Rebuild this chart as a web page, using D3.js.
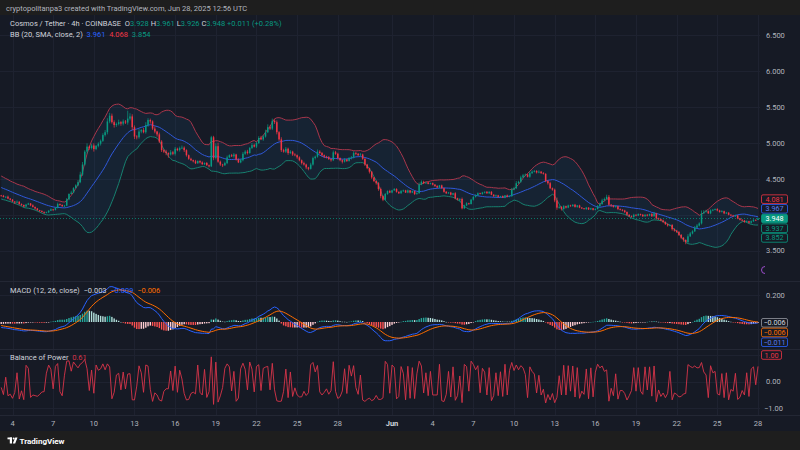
<!DOCTYPE html>
<html><head><meta charset="utf-8">
<script src="https://cdn.jsdelivr.net/npm/d3@7"></script>
<style>
html,body{margin:0;padding:0;background:#1e1e1e;}
svg{display:block;font-family:Roboto,"Noto Sans",sans-serif;}
</style></head><body>
<svg id="c" width="800" height="450"></svg>
<script>
// ---------- DATA (prices in thousandths of USDT) ----------
// closes before the visible window, estimated from where the bands/MACD start
const priorCloses = [4380,4400,4420,4410,4440,4460,4450,4470,4490,4480,4460,4520,4500,4480,4490,4460,4440,4430,4400,4390,4370,4380,4350,4340,4320,4330,4300,4290,4280,4270];
// visible 4h closes, May 3 04:00 -> Jun 28 00:00
const closes = [
4265,4248,4252,4226,4210,4185,4170,4182,4150,4138,4115,4142,
4158,4132,4110,4088,4066,4052,4040,4028,4035,4058,4075,4068,
4095,4150,4138,4120,4128,4215,4290,4310,4372,4410,4455,4560,
4700,4880,4950,4930,4965,4915,4960,4990,5030,5110,5150,5300,
5380,5290,5250,5265,5290,5270,5300,5285,5340,5370,5220,5090,
5080,5160,5180,5150,5250,5320,5300,5200,5160,5120,5020,4900,
4880,4860,4840,4870,4850,4920,4900,4930,4935,4900,4830,4780,
4760,4745,4718,4748,4730,4705,4722,4690,4675,5080,4790,4955,
4740,4700,4690,4720,4800,4830,4815,4840,4770,4730,4760,4850,
4880,4860,4930,4970,4950,5000,5070,5050,5090,5150,5220,5200,
5310,5290,5150,5050,4900,4880,4920,4860,4880,4840,4830,4800,
4760,4720,4700,4660,4640,4700,4790,4810,4880,4860,4830,4810,
4800,4775,4760,4870,4850,4790,4760,4740,4770,4750,4790,4800,
4860,4850,4830,4840,4780,4700,4650,4600,4520,4470,4440,4360,
4260,4210,4290,4330,4310,4340,4360,4320,4300,4330,4340,4310,
4340,4310,4330,4290,4300,4420,4460,4440,4450,4430,4440,4420,
4400,4380,4410,4370,4320,4300,4310,4280,4300,4230,4210,4220,
4090,4130,4160,4150,4210,4250,4270,4300,4290,4310,4320,4300,
4320,4280,4260,4270,4250,4260,4240,4270,4250,4260,4350,4370,
4440,4460,4520,4550,4560,4530,4580,4600,4610,4590,4600,4580,
4570,4470,4440,4370,4350,4200,4100,4110,4080,4120,4100,4130,
4120,4140,4110,4130,4100,4090,4080,4100,4075,4090,4070,4080,
4120,4150,4200,4220,4250,4140,4130,4110,4120,4080,4070,4060,
4040,4000,3980,3970,4000,3990,4010,4000,3980,4000,3990,4010,
3980,4020,3950,3940,3920,3900,3870,3850,3860,3800,3780,3760,
3720,3680,3650,3620,3700,3740,3770,3820,3850,3880,4020,4040,
4050,4020,4060,4070,4080,4060,4040,4050,4020,4030,4000,3990,
3980,3990,3950,3930,3920,3900,3910,3890,3910,3930,3928,3948];
// wick lengths above max(open,close) and below min(open,close)
const upperWicks = [
8,12,5,15,6,10,4,18,7,9,3,12, 10,6,14,5,8,3,11,6,9,4,15,7,
12,20,8,6,10,18,9,25,12,15,30,40, 35,20,45,15,25,30,12,20,18,25,30,45,
40,30,25,20,35,15,28,20,110,45,30,25, 20,35,15,30,40,25,20,15,30,10,25,20,
15,25,10,30,20,25,15,20,30,18,12,10, 15,8,20,10,12,15,8,14,10,20,20,40,
50,15,10,20,25,12,18,20,10,15,20,25, 20,25,15,30,20,18,25,30,20,35,40,25,
30,20,25,15,30,20,25,15,20,12,18,10, 15,10,20,12,8,25,20,15,30,20,15,10,
12,18,10,25,20,15,8,12,20,10,15,18, 25,15,10,20,12,8,10,6,12,10,8,15,
20,12,15,10,18,8,12,10,6,15,10,8, 12,6,10,8,14,30,20,15,10,12,8,10,
8,12,6,10,5,12,8,10,6,15,8,12, 20,10,15,8,12,10,15,12,8,10,6,12,
8,10,6,12,8,5,10,6,12,8,25,20, 30,15,25,20,15,10,25,20,15,12,20,10,
15,10,12,20,10,15,40,20,10,15,8,12, 10,8,12,6,10,8,5,10,6,8,5,10,
15,20,25,20,30,25,10,8,12,6,10,8, 10,6,8,12,15,8,10,6,12,8,10,6,
15,20,8,10,6,12,8,10,6,8,12,10, 15,12,10,8,30,20,15,25,20,15,40,25,
20,12,15,10,8,12,10,15,8,10,6,12, 10,12,8,6,10,8,12,6,10,8,5,13];
const lowerWicks = [
10,6,15,8,12,5,18,6,10,14,8,5, 6,12,8,15,10,12,8,14,6,10,5,12,
8,6,12,10,15,8,12,6,10,8,12,15, 20,15,30,25,20,35,15,20,25,15,20,30,
25,20,35,25,20,30,25,20,30,25,40,35, 30,20,25,15,20,25,30,20,25,30,20,25,
20,30,45,15,20,25,15,20,15,25,20,15, 10,15,12,8,15,10,12,8,15,10,30,20,
15,20,25,10,15,12,10,20,15,10,12,15, 15,20,10,15,12,20,15,10,20,15,12,20,
20,25,30,20,25,15,20,25,15,20,15,20, 15,20,15,25,20,10,15,20,15,12,15,20,
15,10,20,12,15,20,15,25,12,15,10,20, 15,20,12,10,15,20,15,25,20,15,20,25,
30,20,10,12,8,10,6,12,10,8,12,6, 10,12,8,15,10,6,8,12,10,6,8,10,
12,8,10,6,12,10,8,12,10,15,10,25, 15,12,8,10,6,12,10,8,6,10,12,8,
10,6,12,8,10,12,6,10,8,6,10,8, 12,10,15,8,12,10,15,12,10,15,12,10,
10,15,20,12,15,25,30,15,20,10,12,8, 8,6,10,12,8,10,6,12,8,6,10,8,
6,8,10,12,8,15,20,10,12,15,10,12, 15,12,10,8,12,10,8,12,10,8,12,10,
10,8,15,12,10,15,12,15,10,20,15,12, 15,20,25,30,15,10,12,10,8,12,15,10,
10,8,12,10,8,12,10,8,12,10,8,12, 8,10,12,8,10,12,8,10,12,8,10,2];

const dateTicks = ["2025-05-04","2025-05-07","2025-05-10","2025-05-13","2025-05-16","2025-05-19","2025-05-22","2025-05-25","2025-05-28","2025-06-01","2025-06-04","2025-06-07","2025-06-10","2025-06-13","2025-06-16","2025-06-19","2025-06-22","2025-06-25","2025-06-28"];
const dateTickLabels = ["4","7","10","13","16","19","22","25","28","Jun","4","7","10","13","16","19","22","25","28"];
const priceTicks = [3.5,4.0,4.5,5.0,5.5,6.0,6.5];
const priceTickLabels = ["3.500","","4.500","5.000","5.500","6.000","6.500"];
const macdTicks = [0.2];
const macdTickLabels = ["0.200"];
const bopTicks = [0,-1];
const bopTickLabels = ["0.00","\u22121.00"];
const priceLabelTexts = ["4.081","3.967","3.948","3.937","3.852"];
const macdLabelTexts = ["\u22120.006","\u22120.006","\u22120.011"];
const bopLabelTexts = ["1.00"];

// ---------- SETUP ----------
const svg = d3.select('#c');
const COL = {outer:'#1e1e1e', bg:'#161a25', grid:'#1e2230', text:'#b2b5be', up:'#089981', down:'#f23645',
  bbUp:'#a8364b', bbMid:'#2f58d9', bbLow:'#17806f', macd:'#2962ff', signal:'#ff6d00', bop:'#d8344a', sep:'#232734'};
const plotR = 760;
svg.append('rect').attr('width',800).attr('height',450).attr('fill',COL.outer);
svg.append('rect').attr('x',0).attr('y',15).attr('width',800).attr('height',416).attr('fill',COL.bg);

const t0 = Date.UTC(2025,4,3,4);
const x = d3.scaleUtc().domain([new Date(Date.UTC(2025,4,4)), new Date(Date.UTC(2025,5,28))]).range([12.5,758]);
const yP = d3.scaleLinear().domain([3.5,6.5]).range([250.7,35.3]);
const yM = d3.scaleLinear().domain([0,0.2]).range([322,295.3]);
const yB = d3.scaleLinear().domain([-1,1]).range([408.3,355]);

// ---------- DERIVED SERIES ----------
const all = priorCloses.concat(closes).map(v=>v/1000);
const N0 = priorCloses.length;
const candles = closes.map((c,i)=>{
  const o = all[N0+i-1], cl = all[N0+i];
  const h = Math.max(o,cl)+upperWicks[i]/1000, l = Math.min(o,cl)-lowerWicks[i]/1000;
  return {t:new Date(t0+i*4*3600e3), o, c:cl, h, l, bop:(h>l)?(cl-o)/(h-l):0};
});
const bb = candles.map((d,i)=>{
  const k=N0+i, win=all.slice(k-19,k+1);
  const m=d3.mean(win), sd=Math.sqrt(d3.mean(win,v=>(v-m)*(v-m)));
  return {t:d.t, mid:m, up:m+2*sd, lo:m-2*sd};
});
function ema(arr,n){const a=2/(n+1);const out=[];arr.forEach((v,i)=>out.push(i?a*v+(1-a)*out[i-1]:v));return out;}
const e12=ema(all,12), e26=ema(all,26);
const macdAll=all.map((v,i)=>e12[i]-e26[i]);
const sigAll=ema(macdAll,9);
const macd = candles.map((d,i)=>{const k=N0+i;return {t:d.t, m:macdAll[k], s:sigAll[k], h:macdAll[k]-sigAll[k], hp:macdAll[k-1]-sigAll[k-1]};});

// ---------- CLIPS ----------
const defs=svg.append('defs');
[['cm',15,265],['cd',282,67],['cb',350,64]].forEach(([id,y,h])=>defs.append('clipPath').attr('id',id).append('rect').attr('x',0).attr('y',y).attr('width',plotR).attr('height',h));

// ---------- GRID ----------
const grid=svg.append('g').attr('stroke',COL.grid).attr('stroke-width',1);
dateTicks.forEach(s=>{const xx=Math.round(x(new Date(s+'T00:00:00Z')))+0.5;grid.append('line').attr('x1',xx).attr('x2',xx).attr('y1',15).attr('y2',415);});
priceTicks.forEach(p=>{const yy=Math.round(yP(p))+0.5;grid.append('line').attr('x1',0).attr('x2',plotR).attr('y1',yy).attr('y2',yy);});
macdTicks.forEach(p=>{const yy=Math.round(yM(p))+0.5;grid.append('line').attr('x1',0).attr('x2',plotR).attr('y1',yy).attr('y2',yy);});
[1,0,-1].forEach(p=>{const yy=Math.round(yB(p))+0.5;grid.append('line').attr('x1',0).attr('x2',plotR).attr('y1',yy).attr('y2',yy);});
// pane separators
[281.5,349.5,415.5].forEach(yy=>svg.append('line').attr('x1',0).attr('x2',800).attr('y1',yy).attr('y2',yy).attr('stroke',COL.sep).attr('stroke-width',1));

// ---------- MAIN PANE ----------
const gm=svg.append('g').attr('clip-path','url(#cm)');
gm.append('path').datum(bb).attr('fill','rgba(33,150,243,0.07)')
  .attr('d',d3.area().x(d=>x(d.t)).y0(d=>yP(d.lo)).y1(d=>yP(d.up)));
[['up',COL.bbUp],['mid',COL.bbMid],['lo',COL.bbLow]].forEach(([k,c])=>
  gm.append('path').datum(bb).attr('fill','none').attr('stroke',c).attr('stroke-width',1)
   .attr('d',d3.line().x(d=>x(d.t)).y(d=>yP(d[k]))));
// price line
const lastC=candles[candles.length-1].c;
gm.append('line').attr('x1',0).attr('x2',plotR).attr('y1',yP(lastC)).attr('y2',yP(lastC))
  .attr('stroke',COL.up).attr('stroke-width',1).attr('stroke-dasharray','1,2').attr('opacity',0.75);
const cg=gm.append('g');
candles.forEach(d=>{
  const col=d.c>=d.o?COL.up:COL.down, xx=x(d.t);
  cg.append('line').attr('x1',xx).attr('x2',xx).attr('y1',yP(d.h)).attr('y2',yP(d.l)).attr('stroke',col).attr('stroke-width',0.7);
  const y1=yP(Math.max(d.o,d.c)), y2=yP(Math.min(d.o,d.c));
  cg.append('rect').attr('x',xx-0.75).attr('width',1.5).attr('y',y1).attr('height',Math.max(0.8,y2-y1)).attr('fill',col);
});

// ---------- MACD PANE ----------
const gd=svg.append('g').attr('clip-path','url(#cd)');
macd.forEach(d=>{
  const col=d.h>=0?(d.h>d.hp?'#26a69a':'#b2dfdb'):(d.h<d.hp?'#ff5252':'#ffcdd2');
  const ya=yM(Math.max(0,d.h)), yb=yM(Math.min(0,d.h));
  gd.append('rect').attr('x',x(d.t)-0.7).attr('width',1.4).attr('y',ya).attr('height',Math.max(0.5,yb-ya)).attr('fill',col);
});
[['m',COL.macd],['s',COL.signal]].forEach(([k,c])=>
  gd.append('path').datum(macd).attr('fill','none').attr('stroke',c).attr('stroke-width',1)
   .attr('d',d3.line().x(d=>x(d.t)).y(d=>yM(d[k]))));

// ---------- BOP PANE ----------
const gb=svg.append('g').attr('clip-path','url(#cb)');
gb.append('path').datum(candles).attr('fill','none').attr('stroke',COL.bop).attr('stroke-width',0.9)
  .attr('d',d3.line().x(d=>x(d.t)).y(d=>yB(d.bop)));

// ---------- AXES TEXT ----------
const fs=7.5;
const axT=svg.append('g').attr('fill',COL.text).attr('font-size',fs);
priceTicks.forEach((p,i)=>{if(priceTickLabels[i])axT.append('text').attr('x',766).attr('y',yP(p)).attr('dy','0.35em').text(priceTickLabels[i]);});
macdTicks.forEach((p,i)=>axT.append('text').attr('x',766).attr('y',yM(p)).attr('dy','0.35em').text(macdTickLabels[i]));
bopTicks.forEach((p,i)=>axT.append('text').attr('x',p<0?764:766).attr('y',yB(p)).attr('dy','0.35em').text(bopTickLabels[i]));
dateTicks.forEach((s,i)=>{
  const isM=dateTickLabels[i]==='Jun';
  axT.append('text').attr('x',x(new Date(s+'T00:00:00Z'))).attr('y',423.5).attr('dy','0.35em').attr('text-anchor','middle')
   .attr('fill',isM?'#d1d4dc':COL.text).attr('font-weight',isM?'bold':null).text(dateTickLabels[i]);
});

// small events icon at bottom of the price scale
svg.append('path').attr('d','M765,266.5 A3.5,3.5 0 1 0 765,273.5').attr('fill','none').attr('stroke','#9c4dcc').attr('stroke-width',1);

// ---------- VALUE LABELS (right scale) ----------
function vLabel(yc,txt,stroke,fill,tcol,w){
  const g=svg.append('g');
  g.append('rect').attr('x',761.5).attr('y',yc-4.3).attr('width',w).attr('height',8.6).attr('rx',1.5)
   .attr('fill',fill).attr('stroke',stroke).attr('stroke-width',0.8);
  g.append('text').attr('x',761.5+w/2).attr('y',yc).attr('dy','0.35em').attr('text-anchor','middle')
   .attr('font-size',7.2).attr('fill',tcol).text(txt);
}
const pStyles=[[COL.down,COL.bg,COL.down],[COL.macd,COL.bg,'#5b7cf0'],[COL.up,COL.up,'#ffffff'],[COL.up,COL.bg,COL.up],[COL.up,COL.bg,COL.up]];
const yLast=yP(lastC);
priceLabelTexts.forEach((t,i)=>vLabel(yLast+(i-2)*9.7,t,...pStyles[i],26));
const mStyles=[['#9598a1',COL.bg,'#d1d4dc'],[COL.signal,COL.bg,COL.signal],[COL.macd,COL.bg,'#5b7cf0']];
const yMl=yM(-0.006);
macdLabelTexts.forEach((t,i)=>vLabel(yMl+i*9.7,t,...mStyles[i],26));
bopLabelTexts.forEach(t=>vLabel(yB(1),t,COL.down,COL.bg,COL.down,20));

// ---------- HEADER / LEGENDS ----------
svg.append('text').attr('x',6).attr('y',8.5).attr('dy','0.35em').attr('font-size',7.5).attr('fill','#b2b5be')
  .text('cryptopolitanpa3 created with TradingView.com, Jun 28, 2025 12:56 UTC');
function legend(y,parts){
  const t=svg.append('text').attr('x',10).attr('y',y).attr('dy','0.35em').attr('font-size',7.5).attr('xml:space','preserve');
  parts.forEach(([s,c])=>t.append('tspan').attr('fill',c).text(s));
}
const W='#d1d4dc', G=COL.up;
legend(23.5,[['Cosmos / Tether \u00b7 4h \u00b7 COINBASE  ',W],['O',W],['3.928',G],[' H',W],['3.961',G],[' L',W],['3.926',G],[' C',W],['3.948',G],[' +0.011 (+0.28%)',G]]);
legend(34,[['BB (20, SMA, close, 2)  ',W],['3.961',COL.macd],['  4.068',COL.down],['  3.854',G]]);
legend(290.5,[['MACD (12, 26, close)  ',W],['\u22120.003',W],['  \u22120.009',COL.macd],['  \u22120.006',COL.signal]]);
legend(357.5,[['Balance of Power  ',W],['0.61',COL.bop]]);

// ---------- FOOTER ----------
const lg=svg.append('g').attr('fill','#ffffff');
lg.append('rect').attr('x',7.5).attr('y',437.5).attr('width',4.5).attr('height',1.8);
lg.append('rect').attr('x',9.8).attr('y',437.5).attr('width',2.2).attr('height',6);
lg.append('circle').attr('cx',13.7).attr('cy',438.5).attr('r',1);
lg.append('path').attr('d','M15.2,437.5 L17.5,437.5 L15.2,443.5 L12.8,443.5 Z');
svg.append('text').attr('x',19.5).attr('y',440.8).attr('dy','0.35em').attr('font-size',8).attr('font-weight','bold')
  .attr('fill','#ffffff').text('TradingView');
</script>
</body></html>
